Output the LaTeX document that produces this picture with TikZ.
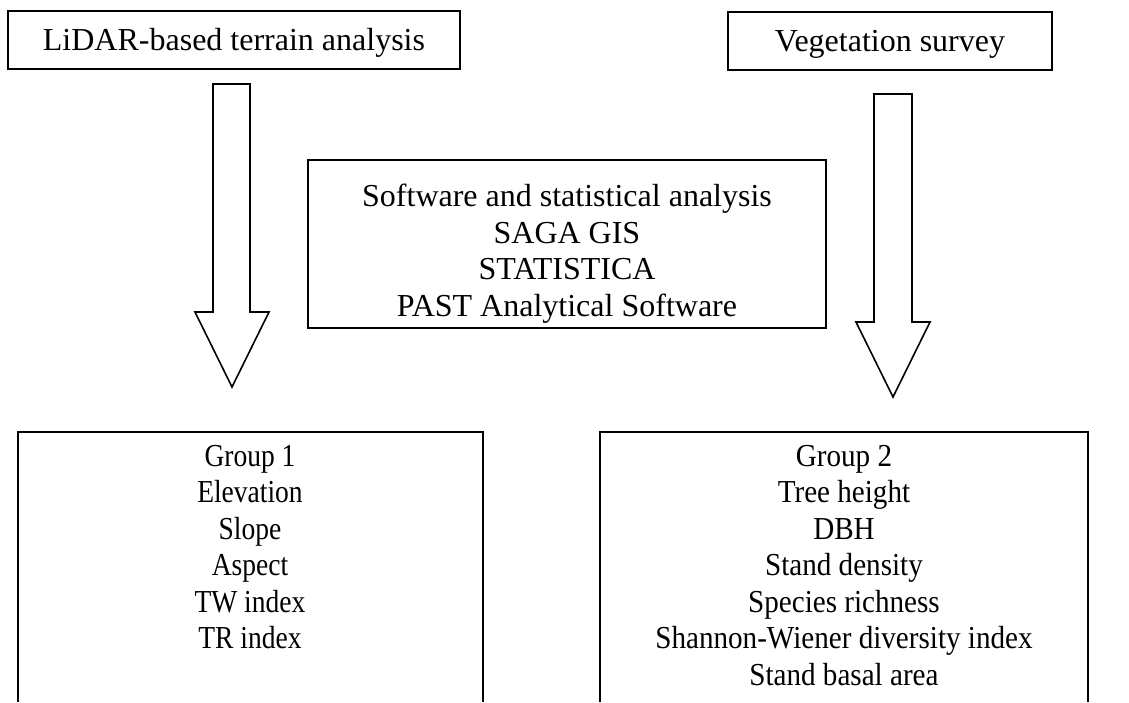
\documentclass[tikz,border=0pt]{standalone}
\usepackage{fontspec}
\setmainfont{Liberation Serif}
\newfontfamily\groupone[FakeStretch=0.86]{Liberation Serif}
\newfontfamily\grouptwo[FakeStretch=0.91]{Liberation Serif}
\begin{document}
\begin{tikzpicture}[x=1pt,y=-1pt,
  txt/.style={font=\fontsize{32}{36.5}\selectfont, align=center, inner sep=0pt},
  box/.style={draw, line width=1.6pt, line join=miter}]
\useasboundingbox (0,0) rectangle (1129,702);
% top boxes
\draw[box] (8,11) rectangle (460,69);
\node[txt, anchor=base] (lidar) at (234,50) {LiDAR-based terrain analysis};
\draw[box] (728,12) rectangle (1052,70);
\node[txt, anchor=base] (veg) at (890,51) {Vegetation survey};
% central box
\draw[box] (308,160) rectangle (826,328);
\node[txt, anchor=north] (soft) at (567,184) {Software and statistical analysis\\SAGA GIS\\STATISTICA\\PAST Analytical Software};
% bottom boxes (open at the bottom)
\draw[box] (18,702) -- (18,432) -- (483,432) -- (483,702);
\node[txt, font=\groupone\fontsize{32}{36.5}\selectfont, anchor=north] (g1) at (250,445) {Group 1\\Elevation\\Slope\\Aspect\\TW index\\TR index};
\draw[box] (600,702) -- (600,432) -- (1088,432) -- (1088,702);
\node[txt, font=\grouptwo\fontsize{32}{36.5}\selectfont, anchor=north] (g2) at (844,445) {Group 2\\Tree height\\DBH\\Stand density\\Species richness\\Shannon-Wiener diversity index\\Stand basal area};
% block arrows
\draw[box] (213,84) -- (250,84) -- (250,312) -- (269,312) -- (232,387) -- (195,312) -- (213,312) -- cycle;
\draw[box] (874,94) -- (912,94) -- (912,322) -- (930,322) -- (893,397) -- (856,322) -- (874,322) -- cycle;
\end{tikzpicture}
\end{document}
